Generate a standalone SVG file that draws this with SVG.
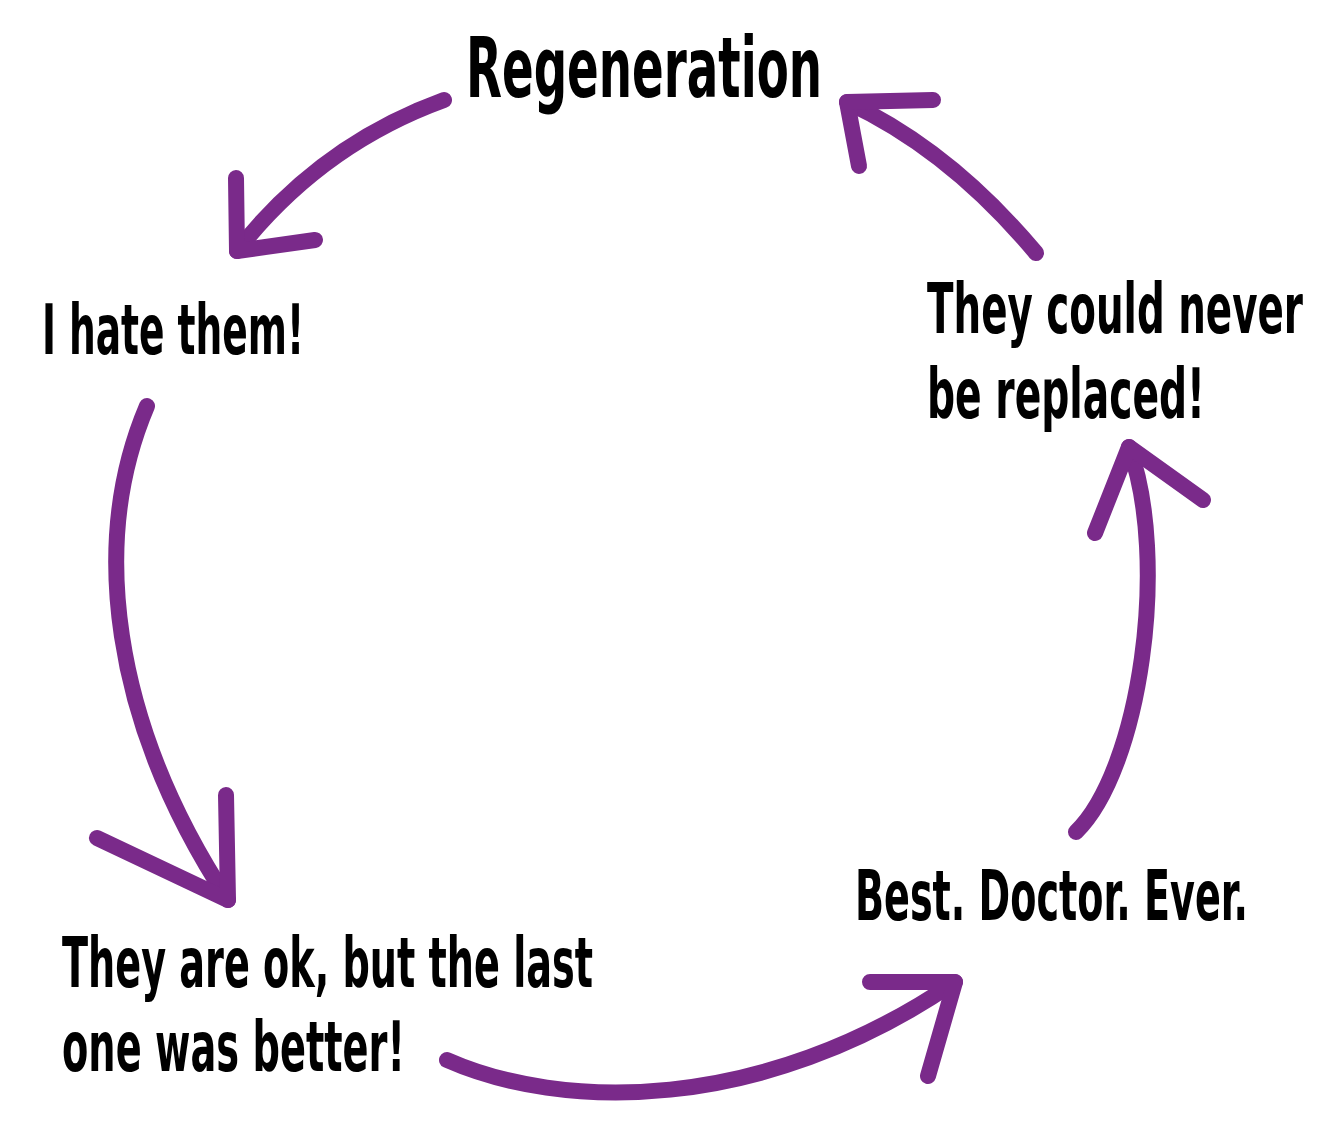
<svg xmlns="http://www.w3.org/2000/svg" width="1333" height="1131" viewBox="0 0 1333 1131">
<style>
.t{font-family:"DejaVu Sans Condensed","Liberation Sans Narrow","DejaVu Sans",sans-serif;font-weight:bold;fill:#000}
.a{fill:none;stroke:#7a2a8a;stroke-width:16;stroke-linecap:round;stroke-linejoin:round}
</style>
<rect width="1333" height="1131" fill="#fff"/>
<g id="connectors">
<path class="a" d="M444,100 Q320,145 237,251"/>
<path class="a" d="M236,178 L237,251 L315,240"/>
<path class="a" d="M147,406 C90,540 110,720 228,900"/>
<path class="a" d="M226,795 L228,900 L97,838"/>
<path class="a" d="M447,1060 C560,1110 760,1115 955,982"/>
<path class="a" d="M870,982 L955,982 L928,1076"/>
<path class="a" d="M1076,832 C1140,770 1170,560 1129,447"/>
<path class="a" d="M1095,533 L1129,447 L1203,500"/>
<path class="a" d="M1036,253 Q950,150 847,102"/>
<path class="a" d="M933,100 L847,102 L859,166"/>
</g>
<g id="node-regeneration"><text class="t" x="466" y="97" font-size="84" textLength="356" lengthAdjust="spacingAndGlyphs">Regeneration</text></g>
<g id="node-hate"><text class="t" x="42" y="354" font-size="70" textLength="262" lengthAdjust="spacingAndGlyphs">I hate them!</text></g>
<g id="node-ok"><text class="t" x="62" y="987" font-size="70" textLength="531" lengthAdjust="spacingAndGlyphs">They are ok, but the last</text><text class="t" x="62" y="1071" font-size="70" textLength="343" lengthAdjust="spacingAndGlyphs">one was better!</text></g>
<g id="node-best"><text class="t" x="855" y="920" font-size="70" textLength="393" lengthAdjust="spacingAndGlyphs">Best. Doctor. Ever.</text></g>
<g id="node-never"><text class="t" x="927" y="333" font-size="70" textLength="376" lengthAdjust="spacingAndGlyphs">They could never</text><text class="t" x="927" y="418" font-size="70" textLength="278" lengthAdjust="spacingAndGlyphs">be replaced!</text></g>
</svg>
